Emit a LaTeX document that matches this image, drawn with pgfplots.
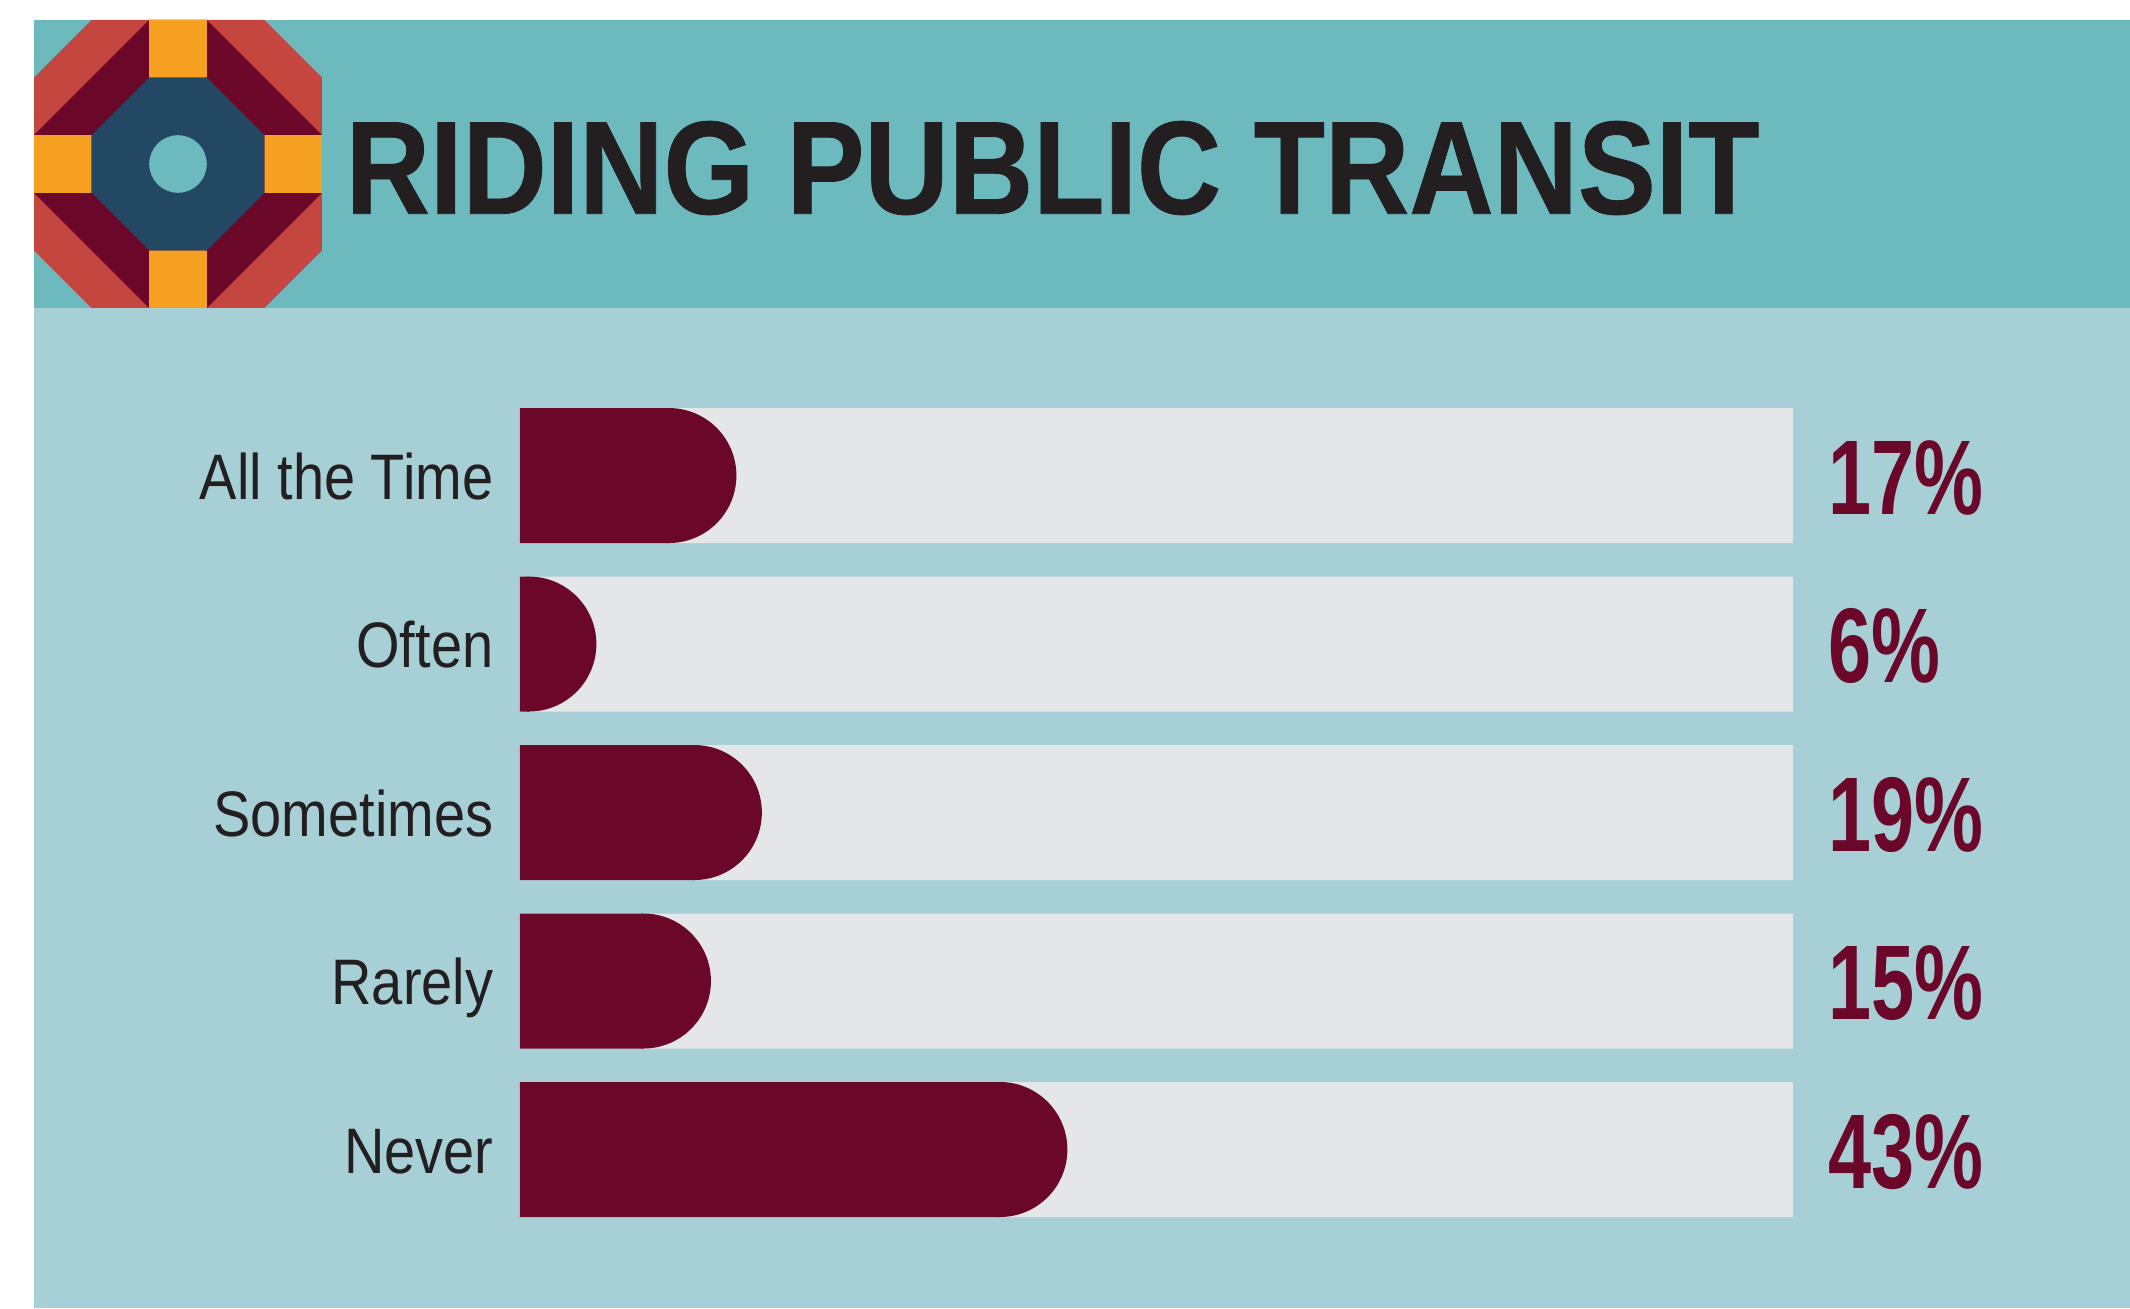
\documentclass[border=0pt]{standalone}
\usepackage{fontspec}
\usepackage{pgfplots}
\pgfplotsset{compat=1.18}
\setmainfont{Liberation Sans}
\newfontfamily\titleface{Liberation Sans}[FakeStretch=0.88, FakeBold=0.6]
\newfontfamily\labface{Liberation Sans}[FakeStretch=0.87]
\newfontfamily\pctface{Liberation Sans}[FakeStretch=0.73]
\newcommand\titlefont{\titleface\bfseries\fontsize{37.75pt}{40pt}\selectfont}
\newcommand\labfont{\labface\fontsize{18.3pt}{20pt}\selectfont}
\newcommand\pctfont{\pctface\bfseries\fontsize{30.2pt}{32pt}\selectfont}

\definecolor{hdr}{HTML}{6CB9BE}
\definecolor{body}{HTML}{A7D0D6}
\definecolor{barbg}{HTML}{E5E6E8}
\definecolor{maroon}{HTML}{6B0829}
\definecolor{ink}{HTML}{231F20}
\definecolor{lred}{HTML}{C4463E}
\definecolor{lorange}{HTML}{F5A021}
\definecolor{lnavy}{HTML}{224864}

% half disk on the right of the point, with a little overlap to the left
\pgfdeclareplotmark{halfdisk}{%
  \pgfpathmoveto{\pgfpoint{-0.6pt}{\pgfplotmarksize}}%
  \pgfpathlineto{\pgfpoint{0pt}{\pgfplotmarksize}}%
  \pgfpatharc{90}{-90}{\pgfplotmarksize}%
  \pgfpathlineto{\pgfpoint{-0.6pt}{-\pgfplotmarksize}}%
  \pgfpathclose
  \pgfusepathqfill}

\begin{document}
\begin{tikzpicture}[x=0.1mm, y=0.1mm]
% page and panels
\fill[white] (0,0) rectangle (2130,1308);
\fill[hdr] (34,1000) rectangle (2130,1288);
\fill[body] (34,0) rectangle (2130,1000);

% logo
\begin{scope}[shift={(34,1288)}, x=5.76mm, y=-5.76mm]
  \fill[lred] (1,0)--(4,0)--(5,1)--(5,4)--(4,5)--(1,5)--(0,4)--(0,1)--cycle;
  \fill[maroon] (2,0)--(3,0)--(5,2)--(5,3)--(3,5)--(2,5)--(0,3)--(0,2)--cycle;
  \fill[lorange] (2,0) rectangle (3,1) (0,2) rectangle (1,3)
                 (4,2) rectangle (5,3) (2,4) rectangle (3,5);
  \fill[lnavy] (2,1)--(3,1)--(4,2)--(4,3)--(3,4)--(2,4)--(1,3)--(1,2)--cycle;
  \fill[hdr] (2.5,2.5) circle (0.5);
\end{scope}

\node[anchor=base west, inner sep=0pt, text=ink] at (345,1094.3) {\titlefont RIDING PUBLIC TRANSIT};

\begin{axis}[
  at={(52mm,7.425mm)}, anchor=south west,
  scale only axis, width=127.3mm, height=84.25mm,
  xmin=0, xmax=100, ymin=0.5, ymax=5.5, y dir=reverse,
  axis line style={draw=none}, major tick length=0pt,
  xtick=\empty, ytick={1,2,3,4,5},
  yticklabels={All the Time,Often,Sometimes,Rarely,Never},
  yticklabel style={font=\labfont, text=ink, anchor=base east,
    inner sep=0pt, xshift=-2.6mm, yshift=-2.35mm},
  clip=false,
]
\addplot[xbar, bar width=13.5mm, bar shift=0pt, fill=barbg, draw=none,
  point meta=explicit symbolic,
  nodes near coords={\pgfplotspointmeta\%},
  every node near coord/.append style={font=\pctfont, text=maroon,
    anchor=base west, inner sep=0pt, xshift=3.5mm, yshift=-3.85mm}]
  coordinates {(100,1) [17] (100,2) [6] (100,3) [19] (100,4) [15] (100,5) [43]};
% bar body stops one cap radius (67.5 of 1273 px = 5.302) short of the value
\addplot[xbar, bar width=13.5mm, bar shift=0pt, fill=maroon, draw=none,
  x filter/.expression={x-5.302},
  mark=halfdisk, mark size=6.75mm, mark options={fill=maroon, draw=none}]
  coordinates {(17,1) (6,2) (19,3) (15,4) (43,5)};
\end{axis}
\end{tikzpicture}
\end{document}
